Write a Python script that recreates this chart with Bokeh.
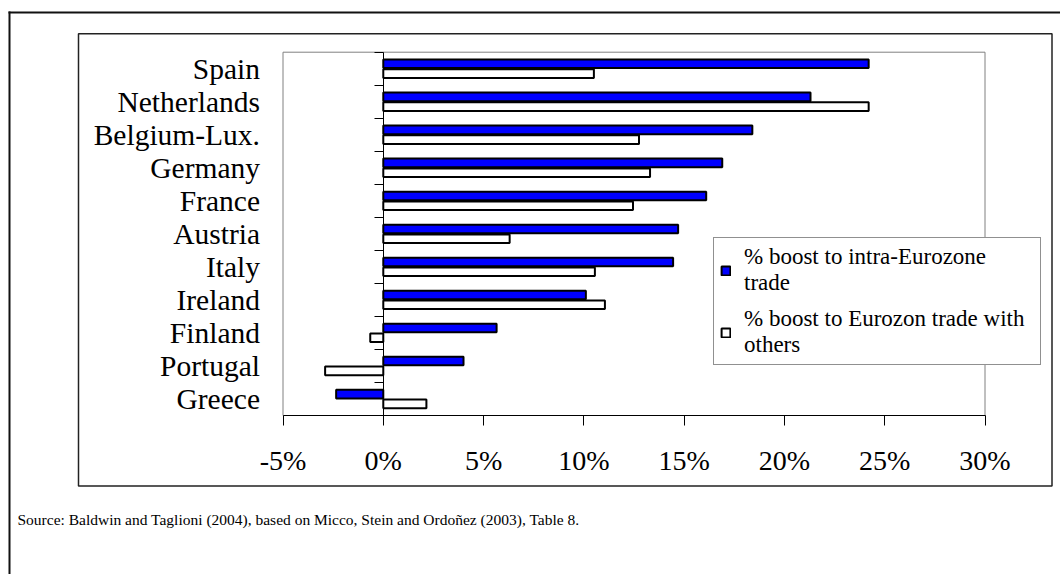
from bokeh.plotting import figure
from bokeh.models import (Range1d, LinearAxis, FixedTicker, PrintfTickFormatter,
                          Legend, LegendItem, Label, BoxAnnotation, ColumnDataSource)
from bokeh.transform import dodge
from bokeh.core.properties import value
from bokeh.embed import file_html
from bokeh.resources import INLINE

# ---- data ----
countries = ["Spain", "Netherlands", "Belgium-Lux.", "Germany", "France", "Austria",
             "Italy", "Ireland", "Finland", "Portugal", "Greece"]
intra = [24.2, 21.3, 18.4, 16.9, 16.1, 14.7, 14.45, 10.1, 5.65, 4.0, -2.35]
others = [10.5, 24.2, 12.75, 13.3, 12.45, 6.3, 10.55, 11.05, -0.65, -2.9, 2.15]
x_ticks = [-5, 0, 5, 10, 15, 20, 25, 30]
legend_labels = ["% boost to intra-Eurozone\ntrade", "% boost to Eurozon trade with\nothers"]
source_note = "Source: Baldwin and Taglioni (2004), based on Micco, Stein and Ordoñez (2003), Table 8."

FONT = "Liberation Serif"
W, H = 1060, 574

n = len(countries)
pos = [n - 0.5 - i for i in range(n)]          # category centres, Spain on top
src = ColumnDataSource(dict(pos=pos, country=countries, intra=intra, others=others))

# the frame covers the whole canvas; the plot area (-5..30, 0..n) sits inside it
xmin, xmax = x_ticks[0], x_ticks[-1]
area_w, area_h = 702.0, 363.3
left_px, top_px = 282.5, 51.7
px_x = area_w / (xmax - xmin)
px_y = area_h / n
x_range = Range1d(xmin - left_px / px_x, xmax + (W - left_px - area_w) / px_x)
y_range = Range1d(0 - (H - top_px - area_h) / px_y, n + top_px / px_y)

p = figure(width=W, height=H, x_range=x_range, y_range=y_range,
           output_backend="svg", toolbar_location=None,
           min_border=0, min_border_left=0, min_border_right=0,
           min_border_top=0, min_border_bottom=0)

p.grid.visible = False
p.outline_line_color = None
p.background_fill_color = "white"
p.border_fill_color = "white"

# plot-area border
p.add_layout(BoxAnnotation(left=xmin, right=xmax, bottom=0, top=n,
                           fill_color=None, fill_alpha=0, line_color="#808080",
                           line_alpha=1, line_width=1, level="underlay"))

r1 = p.hbar(y=dodge("pos", 0.148), left=0, right="intra", height=0.26,
            fill_color="#0000FF", line_color="black", line_width=2, source=src)
r2 = p.hbar(y=dodge("pos", -0.148), left=0, right="others", height=0.26,
            fill_color="white", line_color="black", line_width=2, source=src)

# category axis (labels only), fixed at the plot-area's left edge
yax = p.yaxis[0]
yax.fixed_location = xmin
yax.bounds = (0, n)
yax.ticker = FixedTicker(ticks=pos)
yax.major_label_overrides = {y: c for y, c in zip(pos, countries)}
yax.axis_line_color = None
yax.major_tick_line_color = None
yax.minor_tick_line_color = None
yax.major_tick_out = 0
yax.major_tick_in = 0
yax.major_label_standoff = 23
yax.major_label_text_font = FONT
yax.major_label_text_font_size = "29.5px"
yax.major_label_text_color = "black"

# x axis, fixed at y = 0
xax = p.xaxis[0]
xax.fixed_location = 0
xax.bounds = (xmin, xmax)
xax.ticker = FixedTicker(ticks=x_ticks)
xax.formatter = PrintfTickFormatter(format="%d%%")
xax.major_label_text_font = FONT
xax.major_label_text_font_size = "28px"
xax.major_label_text_color = "black"
xax.major_label_standoff = 19
xax.major_tick_out = 10
xax.major_tick_in = 0
xax.minor_tick_line_color = None
xax.axis_line_color = "black"
xax.major_tick_line_color = "black"

# value axis at x = 0 with ticks between categories
ax0 = LinearAxis(fixed_location=0, bounds=(0, n),
                 ticker=FixedTicker(ticks=list(range(n + 1))),
                 major_label_overrides={i: "" for i in range(n + 1)},
                 major_tick_out=9, major_tick_in=0, minor_tick_line_color=None,
                 axis_line_color="black", major_tick_line_color="black")
p.add_layout(ax0, "left")

legend = Legend(items=[LegendItem(label=value(legend_labels[0]), renderers=[r1]),
                       LegendItem(label=value(legend_labels[1]), renderers=[r2])],
                location=(713, H - 365),
                label_text_font=FONT, label_text_font_size="23px", label_text_line_height=1.2,
                label_text_color="black",
                glyph_width=11, glyph_height=11, label_standoff=13, padding=6, spacing=10,
                margin=0, border_line_color="#222222", border_line_width=1,
                background_fill_color="white", background_fill_alpha=1, label_width=290)
p.add_layout(legend, "center")

cu = dict(left_units="canvas", right_units="canvas", top_units="canvas", bottom_units="canvas")

# blank strip at the far right (the outer frame continues beyond the window)
p.add_layout(BoxAnnotation(left=1054, right=W + 20, top=14, bottom=H + 20, fill_color="white",
                           fill_alpha=1, line_color=None, level="overlay", **cu))

# inner frame around the chart
inner = BoxAnnotation(left=78, right=1051.5, top=33.3, bottom=485.5,
                      fill_color=None, fill_alpha=0, line_color="#222222", line_alpha=1,
                      line_width=1.5, level="overlay", **cu)
p.add_layout(inner)

# outer frame: only its top and left edges fall inside the window
p.add_layout(BoxAnnotation(left=8, right=W + 20, top=11, bottom=13, fill_color="#111111", fill_alpha=1,
                           line_color=None, level="overlay", **cu))
p.add_layout(BoxAnnotation(left=8, right=10, top=11, bottom=H + 20, fill_color="#111111", fill_alpha=1,
                           line_color=None, level="overlay", **cu))

note = Label(x=17, y=H - 519, x_units="screen", y_units="screen", text=source_note,
             text_font=FONT, text_font_size="15.5px", text_baseline="middle", text_align="left",
             text_color="black")
p.add_layout(note)

open("out.html", "w").write(file_html(p, INLINE))
